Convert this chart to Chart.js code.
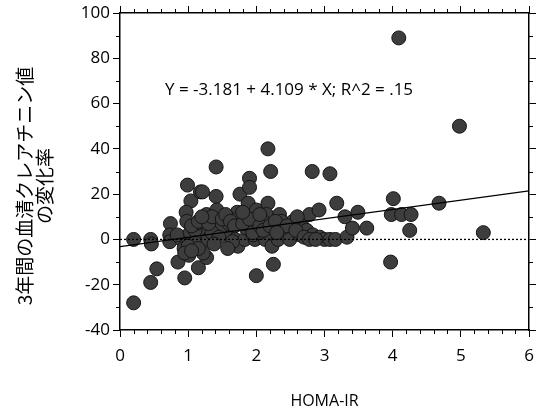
<!DOCTYPE html>
<html>
<head>
<meta charset="utf-8">
<script src="https://cdn.jsdelivr.net/npm/chart.js@4"></script>
<style>
  body { margin: 0; background: #fff; }
  #wrap { width: 539px; height: 411px; }
</style>
</head>
<body>
<div id="wrap"><canvas id="chart"></canvas></div>
<script>
// HOMA-IR (x) y cambio de creatinina sérica en 3 años (%) (y)
const homaIr = [
  0.2, 0.45, 0.46, 0.2, 0.45, 0.54, 0.74, 0.73, 0.73, 0.99,
  1.04, 0.97, 0.98, 0.9, 0.84, 0.94, 0.85, 0.95, 1.01, 1.03,
  1.18, 1.21, 1.15, 1.27, 1.22, 1.27, 1.41, 1.41, 1.42, 1.42,
  1.22, 1.27, 1.1, 1.1, 1.29, 1.43, 1.54, 1.61, 1.69, 1.73,
  1.76, 1.72, 1.72, 1.9, 1.9, 1.88, 2.0, 1.98, 1.83, 1.98,
  2.0, 2.17, 2.21, 2.17, 2.15, 2.1, 2.13, 2.23, 2.25, 2.34,
  2.37, 2.39, 2.32, 2.49, 2.54, 2.66, 2.64, 2.74, 2.78, 2.82,
  2.92, 2.83, 2.93, 3.0, 3.08, 3.16, 3.08, 3.18, 3.3, 3.33,
  3.41, 3.49, 3.62, 3.97, 4.01, 3.98, 4.13, 4.27, 4.25, 4.09,
  4.68, 4.98, 5.33, 1.5, 1.35, 1.6, 1.85, 2.05, 1.65, 1.0,
  0.95, 1.12, 1.58, 1.95, 1.05, 1.15, 1.3, 1.35, 1.5, 1.55,
  1.62, 1.68, 1.8, 1.9, 1.95, 2.05, 2.1, 2.2, 2.28, 2.45,
  2.58, 2.7, 2.78, 2.87, 1.45, 1.38, 1.15, 1.05, 1.2, 1.8,
  2.3, 2.6, 2.05
];
const creatChange = [
  0, 0, -2, -28, -19, -13, 7, 2, -1, 24,
  17, 12, 8, 0, 2, -4, -10, -17, -7, 3,
  21, 21, -12.5, -8, -6, 11, 32, 19, 13, 8,
  5, 2, 4, -1.5, 0, 4, 5, 2, 0, -3,
  20, 12, 9, 27, 23, 16, 13, 5, 0, 0,
  -16, 40, 30, 16, 11, 8, 0, -3, -11, 11,
  8, 5, 0, 0, 8, 7, 2, 4, 11, 30,
  13, 2, 1, 0, 0, 0, 29, 16, 10, 1,
  5, 12, 5, -10, 18, 11, 11, 11, 4, 89,
  16, 50, 3, 6, 3, 7, 5, 3, -1, -3,
  -6, 7, -4, 2, 6, 8, 7, 10, 9, 11,
  8, 6, 7, 9, 3, 6, 4, 6, 8, 6,
  4, 1, 0, 0, 1, -2, -4, -5, 10, 12,
  3, 10, 11
];

// recta de regresión: Y = -3.181 + 4.109 * X
const intercepto = -3.181;
const pendiente = 4.109;
const xRango = [0, 6];
const ecuacion = 'Y = -3.181 + 4.109 * X; R^2 = .15';
const tituloY = ['3年間の血清クレアチニン値', 'の変化率'];

const puntos = homaIr.map((x, i) => ({ x: x, y: creatChange[i] }));
const recta = xRango.map(x => ({ x: x, y: intercepto + pendiente * x }));
const cero = xRango.map(x => ({ x: x, y: 0 }));

const fuenteNum = "'Open Sans', 'DejaVu Sans', sans-serif";

// ticks menores, título Y y texto de la ecuación
const extras = {
  id: 'extras',
  afterDraw(chart) {
    const ctx = chart.ctx;
    const xs = chart.scales.x;
    const ys = chart.scales.y;
    const a = chart.chartArea;
    ctx.save();
    ctx.strokeStyle = '#000';
    ctx.lineWidth = 1;
    ctx.beginPath();
    for (let i = 0; i <= 30; i++) {
      if (i % 5 === 0) continue;
      const px = Math.round(xs.getPixelForValue(i / 5)) + 0.5;
      ctx.moveTo(px, a.bottom); ctx.lineTo(px, a.bottom + 4);
      ctx.moveTo(px, a.top); ctx.lineTo(px, a.top - 4);
    }
    for (let v = -30; v <= 90; v += 20) {
      const py = Math.round(ys.getPixelForValue(v)) + 0.5;
      ctx.moveTo(a.left, py); ctx.lineTo(a.left - 4, py);
      ctx.moveTo(a.right, py); ctx.lineTo(a.right + 4, py);
    }
    ctx.stroke();

    ctx.fillStyle = '#000';
    ctx.font = '17px ' + fuenteNum;
    ctx.textAlign = 'center';
    ctx.textBaseline = 'middle';
    ctx.fillText(ecuacion, xs.getPixelForValue(2.48), ys.getPixelForValue(66));

    // título del eje Y, girado
    ctx.font = "19px 'Noto Sans CJK JP', sans-serif";
    ctx.translate(35, 186);
    ctx.rotate(-Math.PI / 2);
    ctx.fillText(tituloY[0], 0, -10);
    ctx.fillText(tituloY[1], 0, 10);
    ctx.restore();
  }
};

const ejeComun = {
  grid: { drawOnChartArea: false, drawTicks: true, tickLength: 7, tickColor: '#000', color: '#000' },
  border: { color: '#000', width: 1.5 }
};

new Chart(document.getElementById('chart'), {
  type: 'scatter',
  data: {
    datasets: [
      {
        data: puntos,
        pointRadius: 7,
        pointHoverRadius: 7,
        backgroundColor: '#3d3d3d',
        borderColor: '#151515',
        borderWidth: 1,
        order: 2
      },
      {
        type: 'line',
        data: recta,
        borderColor: '#000',
        borderWidth: 1.2,
        pointRadius: 0,
        fill: false,
        order: 1
      },
      {
        type: 'line',
        data: cero,
        borderColor: '#000',
        borderWidth: 1.3,
        borderDash: [2, 2],
        pointRadius: 0,
        fill: false,
        order: 1
      }
    ]
  },
  options: {
    responsive: true,
    maintainAspectRatio: false,
    animation: false,
    layout: { padding: 0 },
    plugins: {
      legend: { display: false },
      tooltip: { enabled: false }
    },
    scales: {
      x: {
        type: 'linear', position: 'bottom', min: 0, max: 6,
        ...ejeComun,
        ticks: { stepSize: 1, color: '#000', font: { family: fuenteNum, size: 17 }, padding: 9, maxRotation: 0 },
        title: { display: true, text: 'HOMA-IR', color: '#000', font: { family: fuenteNum, size: 16 }, padding: { top: 0, bottom: 0 } },
        afterFit(scale) {
          scale.height = 81;
          scale.paddingLeft = 0;
          scale.paddingRight = 0;
        }
      },
      x2: {
        type: 'linear', position: 'top', min: 0, max: 6,
        ...ejeComun,
        ticks: { stepSize: 1, display: false },
        afterFit(scale) { scale.height = 13; }
      },
      y: {
        type: 'linear', position: 'left', min: -40, max: 100,
        ...ejeComun,
        ticks: { stepSize: 20, color: '#000', font: { family: fuenteNum, size: 17 }, padding: 3 },
        afterFit(scale) {
          scale.width = 120;
          scale.paddingTop = 0;
          scale.paddingBottom = 0;
        }
      },
      y2: {
        type: 'linear', position: 'right', min: -40, max: 100,
        ...ejeComun,
        ticks: { stepSize: 20, display: false },
        afterFit(scale) { scale.width = 10; }
      }
    }
  },
  plugins: [extras]
});
</script>
</body>
</html>
